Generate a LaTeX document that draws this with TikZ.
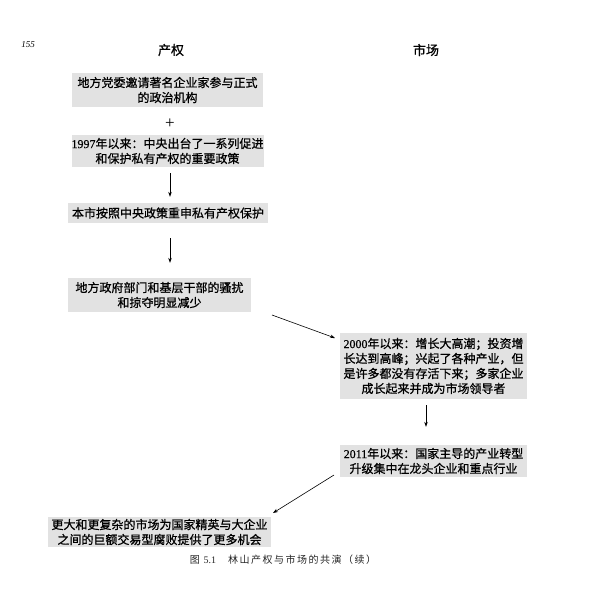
\documentclass[tikz,border=0pt]{standalone}
\usepackage{fontspec}
\setmainfont{Liberation Serif}
\newfontfamily\cjk{Noto Sans CJK SC}
\newfontfamily\cjkb[FakeBold=0.8]{Noto Sans CJK SC}
\newfontfamily\serb[FakeBold=0.5]{Liberation Serif}
\usetikzlibrary{arrows.meta}
\definecolor{boxgray}{RGB}{226,226,226}
\begin{document}
\begin{tikzpicture}[x=1pt,y=-1pt,
  box/.style={fill=boxgray, inner sep=0pt, align=center, font=\cjkb\fontsize{12}{15}\selectfont},
  head/.style={font=\cjkb\fontsize{13}{15}\selectfont},
  arr/.style={-{Stealth[length=5pt,width=3.6pt]}, line width=0.6pt}]
\useasboundingbox (0,0) rectangle (600,600);
\fill[white] (0,0) rectangle (600,600);

\node[font=\rmfamily\itshape\fontsize{9}{10}\selectfont] (pg) at (28,45) {155};
\node[head] (hl) at (171,50) {产权};
\node[head] (hr) at (426,50) {市场};

\node[box, minimum width=191pt, minimum height=34pt] (b1) at (167.5,90)
  {地方党委邀请著名企业家参与正式\\的政治机构};
\node[font=\rmfamily\fontsize{17}{18}\selectfont] (plus) at (170,124) {+};
\node[box, minimum width=191pt, minimum height=32pt] (b2) at (167.5,151)
  {{\serb 1997}年以来：中央出台了一系列促进\\和保护私有产权的重要政策};
\node[box, minimum width=200pt, minimum height=20pt] (b3) at (168,213)
  {本市按照中央政策重申私有产权保护};
\node[box, minimum width=183pt, minimum height=34pt] (b4) at (159.5,295)
  {地方政府部门和基层干部的骚扰\\和掠夺明显减少};
\node[box, minimum width=187pt, minimum height=66pt] (b5) at (433.5,366)
  {{\serb 2000}年以来：增长大高潮；投资增\\长达到高峰；兴起了各种产业，但\\是许多都没有存活下来；多家企业\\成长起来并成为市场领导者};
\node[box, minimum width=187pt, minimum height=32pt] (b6) at (433.5,461)
  {{\serb 2011}年以来：国家主导的产业转型\\升级集中在龙头企业和重点行业};
\node[box, minimum width=223pt, minimum height=30pt] (b7) at (159.5,532)
  {更大和更复杂的市场为国家精英与大企业\\之间的巨额交易型腐败提供了更多机会};

\node[font=\cjk\fontsize{10}{12}\selectfont\addfontfeature{LetterSpace=15}, text=black!85] (cap) at (283,560)
  {图 {\rmfamily 5.1}\hspace{1.2em}林山产权与市场的共演（续）};

\coordinate (d1s) at (272,315);
\coordinate (d1e) at (335,338);
\coordinate (d2s) at (334,475);
\coordinate (d2e) at (273,513);

\draw[arr, shorten <=6pt, shorten >=6pt] (b2.south -| plus.center) -- (b3.north -| plus.center);
\draw[arr, shorten <=15pt, shorten >=15pt] (b3.south -| plus.center) -- (b4.north -| plus.center);
\draw[arr] (d1s) -- (d1e);
\draw[arr, shorten <=6pt, shorten >=18pt] (b5.south -| hr.center) -- (b6.north -| hr.center);
\draw[arr] (d2s) -- (d2e);
\end{tikzpicture}
\end{document}
